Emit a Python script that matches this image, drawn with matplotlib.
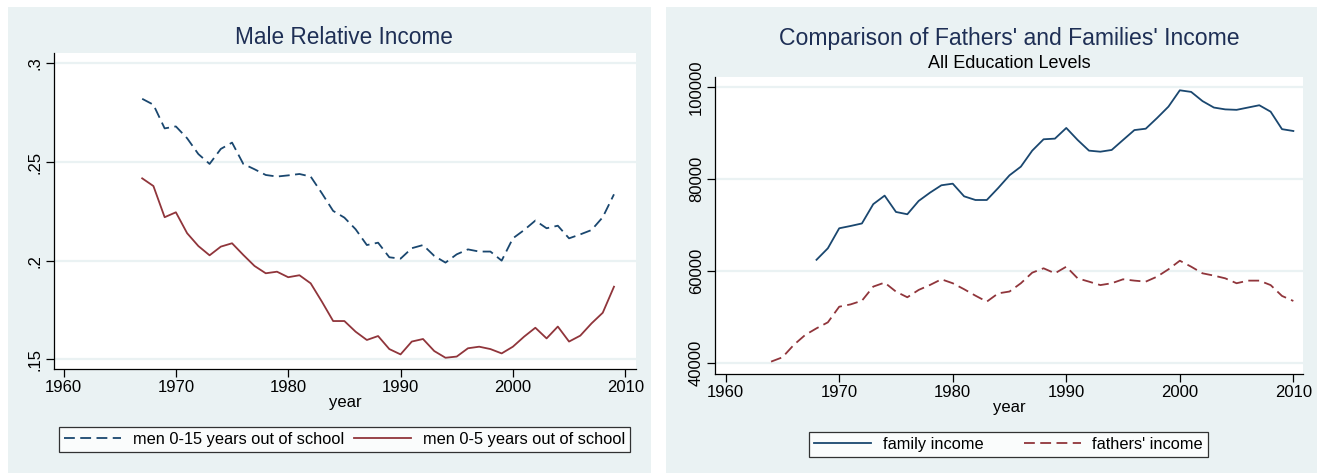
import matplotlib
matplotlib.use("Agg")
import matplotlib.pyplot as plt
from matplotlib.patches import Rectangle

plt.rcParams['font.family'] = ['Liberation Sans', 'DejaVu Sans']

# ---------------- data ----------------
years_left = list(range(1967, 2010))
men_0_15 = [0.282, 0.279, 0.267, 0.268, 0.262, 0.254, 0.249, 0.2566, 0.2598, 0.249,
            0.2463, 0.2434, 0.2426, 0.2432, 0.2439, 0.2426, 0.2341, 0.2252, 0.2218, 0.2159,
            0.2079, 0.2091, 0.2017, 0.201, 0.2063, 0.2079, 0.2024, 0.199, 0.2032, 0.2057,
            0.2046, 0.2046, 0.200, 0.2113, 0.2155, 0.2203, 0.2164, 0.2177, 0.2113, 0.2133,
            0.2155, 0.222, 0.2336]
men_0_5 = [0.2417, 0.2378, 0.222, 0.2245, 0.2139, 0.2074, 0.2027, 0.2071, 0.2088, 0.2029,
           0.1973, 0.1936, 0.1944, 0.1916, 0.1926, 0.1885, 0.1792, 0.1694, 0.1694, 0.164,
           0.1598, 0.1618, 0.1552, 0.1525, 0.159, 0.1603, 0.1542, 0.1508, 0.1514, 0.1556,
           0.1564, 0.1552, 0.153, 0.1564, 0.1615, 0.166, 0.1606, 0.1666, 0.159, 0.162,
           0.1682, 0.1736, 0.1868]

years_family = list(range(1968, 2011))
family_income = [62500, 65000, 69350, 69850, 70400, 74600, 76450, 72900, 72400, 75300,
                 77100, 78700, 79050, 76300, 75500, 75500, 78100, 80870, 82750, 86230,
                 88700, 88840, 91160, 88550, 86230, 86000, 86380, 88550, 90700, 91000,
                 93330, 95800, 99350, 99000, 97000, 95600, 95200, 95100, 95600, 96100,
                 94700, 90900, 90500]
years_fathers = list(range(1964, 2011))
fathers_income = [40360, 41300, 44000, 46150, 47600, 48900, 52300, 52800, 53600, 56670,
                  57540, 55580, 54350, 55950, 57030, 58260, 57400, 56100, 54700, 53400,
                  55200, 55600, 57400, 59700, 60650, 59560, 61000, 58470, 57750, 57000,
                  57400, 58260, 57970, 57750, 58840, 60430, 62300, 61000, 59560, 59060,
                  58470, 57400, 57970, 57970, 57000, 54640, 53550]

x_ticks = [1960, 1970, 1980, 1990, 2000, 2010]
left_yticks = [0.15, 0.2, 0.25, 0.3]
left_ylabels = ['.15', '.2', '.25', '.3']
right_yticks = [40000, 60000, 80000, 100000]
right_ylabels = ['40000', '60000', '80000', '100000']

# ---------------- style ----------------
W, H = 1320, 475
BG = '#EAF2F3'
NAVY = '#1A476F'
MAROON = '#90353B'
TITLE_C = '#1E2F55'
FS = 12

fig = plt.figure(figsize=(W / 100, H / 100), dpi=100)
fig.patch.set_facecolor('white')

def fx(px):
    return px / W

def fy(py):
    return 1 - py / H

# panel backgrounds
fig.add_artist(Rectangle((fx(8), fy(473)), fx(651 - 8), (473 - 7) / H,
                         transform=fig.transFigure, facecolor=BG, edgecolor='none', zorder=0))
fig.add_artist(Rectangle((fx(666), fy(473)), fx(1317 - 666), (473 - 7) / H,
                         transform=fig.transFigure, facecolor=BG, edgecolor='none', zorder=0))

def style_axes(ax, yticks, ylabels):
    ax.set_facecolor('white')
    for s in ['top', 'right']:
        ax.spines[s].set_visible(False)
    for s in ['left', 'bottom']:
        ax.spines[s].set_color('black')
        ax.spines[s].set_linewidth(0.9)
    ax.set_xticks(x_ticks)
    ax.set_xticklabels([str(t) for t in x_ticks], fontsize=FS)
    ax.set_yticks(yticks)
    ax.set_yticklabels(ylabels, fontsize=FS, rotation=90, va='center')
    ax.tick_params(direction='out', length=6, width=0.9, color='black', pad=2)
    ax.grid(axis='y', color=BG, linewidth=1.6)
    ax.set_axisbelow(True)
    ax.set_xlabel('year', fontsize=FS, labelpad=0)

# ---------------- left panel ----------------
ax1 = fig.add_axes([fx(54), fy(369), fx(636 - 54), (369 - 53) / H])
l1, = ax1.plot(years_left, men_0_15, color=NAVY, lw=1.3, dashes=(6, 3),
               label='men 0-15 years out of school')
l2, = ax1.plot(years_left, men_0_5, color=MAROON, lw=1.3,
               label='men 0-5 years out of school')
ax1.set_xlim(1959.15, 2010.96)
ax1.set_ylim(0.1451, 0.3052)
style_axes(ax1, left_yticks, left_ylabels)
fig.text(fx(344), fy(37), 'Male Relative Income', ha='center', va='center',
         fontsize=16.3, color=TITLE_C)
leg1 = fig.legend(handles=[l1, l2], loc='lower left', ncol=2, mode='expand',
                  bbox_to_anchor=(fx(59), fy(452), fx(630 - 59), (452 - 423) / H),
                  fontsize=11.8, frameon=True, fancybox=False, edgecolor='black',
                  handlelength=3.5, handletextpad=0.7, columnspacing=1.5,
                  borderpad=0.3, borderaxespad=0)
leg1.get_frame().set_linewidth(0.9)

# ---------------- right panel ----------------
ax2 = fig.add_axes([fx(715), fy(374), fx(1303 - 715), (374 - 77) / H])
r1, = ax2.plot(years_family, family_income, color=NAVY, lw=1.3, label='family income')
r2, = ax2.plot(years_fathers, fathers_income, color=MAROON, lw=1.3, dashes=(6, 3),
               label="fathers' income")
ax2.set_xlim(1959.06, 2010.85)
ax2.set_ylim(37670, 102240)
style_axes(ax2, right_yticks, right_ylabels)
fig.text(fx(1009), fy(38), "Comparison of Fathers' and Families' Income", ha='center',
         va='center', fontsize=16.6, color=TITLE_C)
fig.text(fx(1009), fy(64), 'All Education Levels', ha='center', va='center',
         fontsize=13, color='black')
leg2 = fig.legend(handles=[r1, r2], loc='lower left', ncol=2, mode='expand',
                  bbox_to_anchor=(fx(809), fy(457), fx(1208 - 809), (457 - 428) / H),
                  fontsize=11.8, frameon=True, fancybox=False, edgecolor='black',
                  handlelength=3.5, handletextpad=0.7, columnspacing=2.0,
                  borderpad=0.3, borderaxespad=0)
leg2.get_frame().set_linewidth(0.9)

fig.savefig('out.png', dpi=100, facecolor='white')
